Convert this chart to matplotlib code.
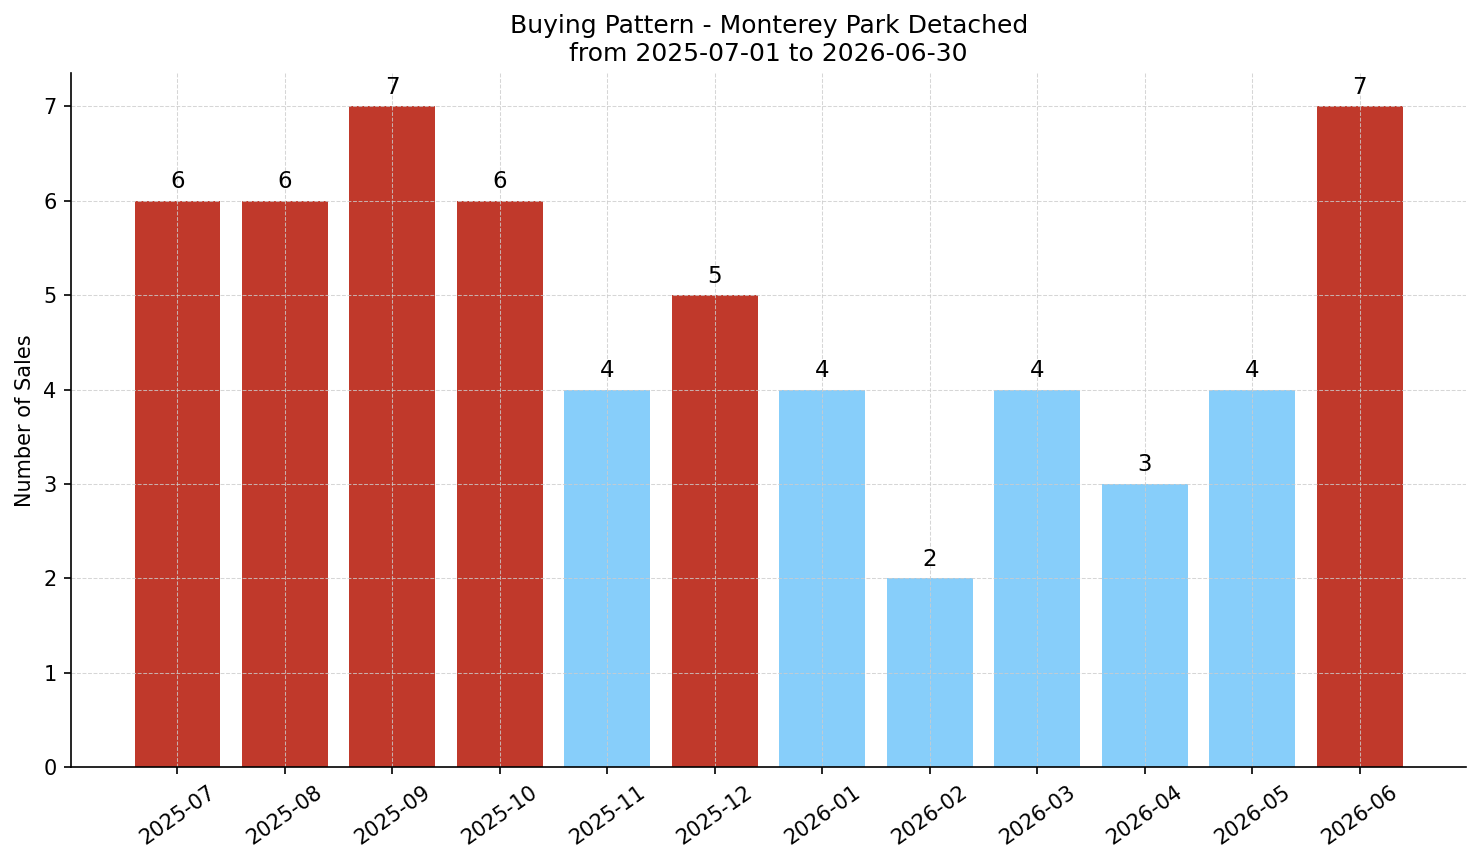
import numpy as np
import matplotlib.pyplot as plt

# Monthly sales counts
months = ["2025-07", "2025-08", "2025-09", "2025-10", "2025-11", "2025-12",
          "2026-01", "2026-02", "2026-03", "2026-04", "2026-05", "2026-06"]
sales = [6, 6, 7, 6, 4, 5, 4, 2, 4, 3, 4, 7]

avg = np.mean(sales)
colors = ["#C0392B" if s > avg else "#87CEFA" for s in sales]

fig, ax = plt.subplots(figsize=(14.81 / 1.5, 8.63 / 1.5), dpi=150)
x = np.arange(len(months))
bars = ax.bar(x, sales, color=colors, width=0.8)

for b, s in zip(bars, sales):
    ax.text(b.get_x() + b.get_width() / 2, s + 0.08, str(s),
            ha="center", va="bottom", fontsize=11)

ax.set_xticks(x)
ax.set_xticklabels(months, rotation=35)
ax.set_ylabel("Number of Sales")
ax.set_title("Buying Pattern - Monterey Park Detached\nfrom 2025-07-01 to 2026-06-30", fontsize=12)
ax.set_ylim(0, 7.35)
ax.grid(True, linestyle="--", color="#cccccc", alpha=0.8, linewidth=0.5)
ax.spines["top"].set_visible(False)
ax.spines["right"].set_visible(False)

plt.subplots_adjust(left=0.048, right=0.99, top=0.915, bottom=0.111)
plt.savefig("out.png")
